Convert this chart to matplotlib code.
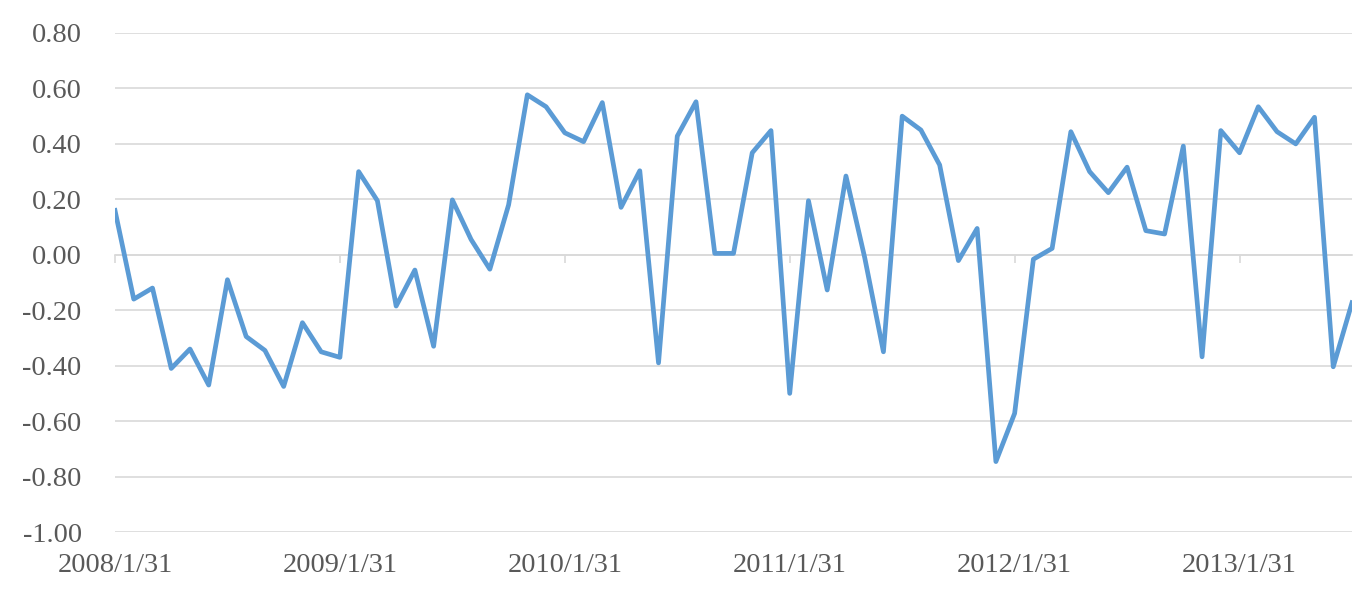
import matplotlib
matplotlib.use("Agg")
import matplotlib.pyplot as plt
import numpy as np

# monthly series, 2008/1/31 .. 2013/7/31
values = [
  0.16, -0.16, -0.12, -0.41, -0.34, -0.47, -0.09, -0.295, -0.345, -0.475, -0.245, -0.35,
  -0.37, 0.30, 0.195, -0.185, -0.055, -0.33, 0.198, 0.055, -0.052, 0.18, 0.577, 0.534,
  0.44, 0.408, 0.549, 0.171, 0.303, -0.39, 0.428, 0.552, 0.005, 0.005, 0.368, 0.448,
  -0.50, 0.195, -0.127, 0.284, -0.01, -0.35, 0.50, 0.45, 0.324, -0.021, 0.095, -0.746,
  -0.572, -0.016, 0.023, 0.444, 0.30, 0.224, 0.316, 0.087, 0.075, 0.392, -0.368, 0.448,
  0.368, 0.534, 0.444, 0.40, 0.496, -0.404, -0.173,
]
tick_labels = ['2008/1/31', '2009/1/31', '2010/1/31', '2011/1/31', '2012/1/31', '2013/1/31']
y_ticks = [0.8, 0.6, 0.4, 0.2, 0.0, -0.2, -0.4, -0.6, -0.8, -1.0]

plt.rcParams['font.family'] = ['Liberation Serif', 'DejaVu Serif']
text_color = '#595959'
grid_color = '#d9d9d9'

fig = plt.figure(figsize=(13.68, 5.97), dpi=100)
ax = fig.add_axes([115/1368, 1-532/597, (1352-115)/1368, (532-33)/597])

x = np.arange(len(values))
ax.plot(x, values, color='#5b9bd5', linewidth=3.4, solid_joinstyle='round', zorder=3)

ax.set_xlim(0, len(values) - 1)
ax.set_ylim(-1.0, 0.8)
ax.set_yticks(y_ticks)
ax.set_yticklabels([f"{v:.2f}" for v in y_ticks])
ax.yaxis.grid(True, color=grid_color, linewidth=1.2)
ax.set_axisbelow(True)
ax.tick_params(axis='y', length=0, pad=24, labelsize=20.5, labelcolor=text_color)

for s in ['top', 'right', 'left']:
  ax.spines[s].set_visible(False)

# category axis crosses at zero, labels stay at the bottom
tick_pos = x[::12]
ax.spines['bottom'].set_position(('data', 0))
ax.spines['bottom'].set_color(grid_color)
ax.spines['bottom'].set_linewidth(1.2)
ax.set_xticks(tick_pos)
ax.tick_params(axis='x', direction='out', length=6, width=1.2, color=grid_color, labelbottom=False)

sec = ax.secondary_xaxis('bottom')
sec.set_xticks(tick_pos)
sec.set_xticklabels(tick_labels)
sec.tick_params(length=0, pad=15, labelsize=20.5, labelcolor=text_color)
sec.spines['bottom'].set_visible(False)

fig.savefig('out.png', dpi=100)
plt.close()
